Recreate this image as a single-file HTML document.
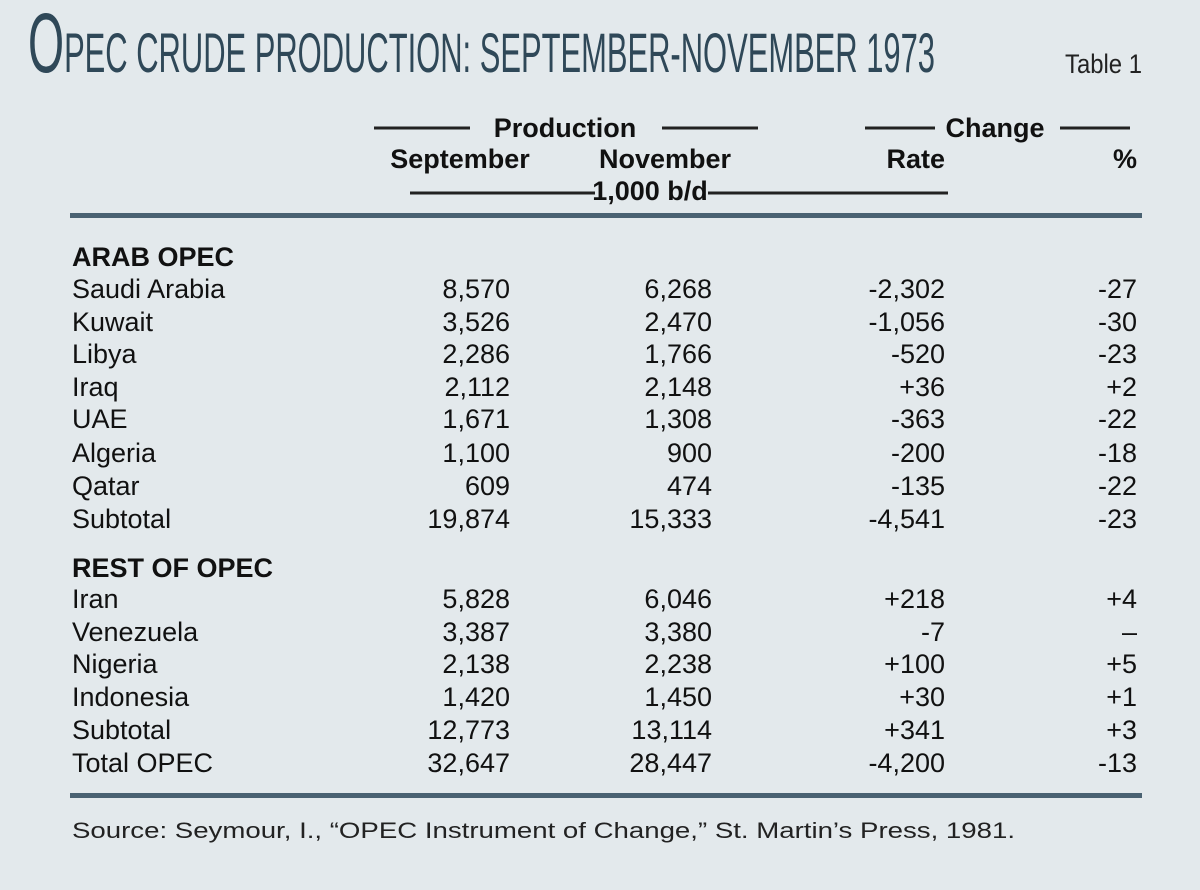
<!DOCTYPE html>
<html><head><meta charset="utf-8"><style>
html,body{margin:0;padding:0;background:#e3e9ec;}
svg{display:block}
</style></head><body>
<svg width="1200" height="890" viewBox="0 0 1200 890" xmlns="http://www.w3.org/2000/svg">
<rect width="1200" height="890" fill="#e3e9ec"/>
<g font-family="Liberation Sans, sans-serif">
<text x="28" y="72" fill="#2f4858" font-size="56" textLength="907" lengthAdjust="spacingAndGlyphs"><tspan font-size="84">O</tspan>PEC CRUDE PRODUCTION: SEPTEMBER-NOVEMBER 1973</text>
<text x="1065" y="73" fill="#222" font-size="27" textLength="77" lengthAdjust="spacingAndGlyphs">Table 1</text>

<g fill="#111" font-size="27" font-weight="bold">
<text x="565" y="137" text-anchor="middle">Production</text>
<text x="995" y="137" text-anchor="middle">Change</text>
<text x="460" y="168" text-anchor="middle">September</text>
<text x="665" y="168" text-anchor="middle">November</text>
<text x="945" y="168" text-anchor="end">Rate</text>
<text x="1137" y="168" text-anchor="end">%</text>
<text x="650" y="200" text-anchor="middle">1,000 b/d</text>
</g>
<g stroke="#222" stroke-width="3">
<line x1="374" y1="128" x2="470" y2="128"/>
<line x1="662" y1="128" x2="758" y2="128"/>
<line x1="865" y1="128" x2="935" y2="128"/>
<line x1="1060" y1="128" x2="1130" y2="128"/>
<line x1="410" y1="193" x2="595" y2="193"/>
<line x1="708" y1="193" x2="948" y2="193"/>
</g>
<rect x="70" y="213" width="1072" height="5" fill="#4a6272"/>
<rect x="70" y="793" width="1072" height="5" fill="#4a6272"/>

<g fill="#111" font-size="27">
<text x="72" y="266" font-weight="bold">ARAB OPEC</text>
<text x="72" y="577" font-weight="bold">REST OF OPEC</text>
</g>
<g fill="#111" font-size="27" id="rows">
<g transform="translate(0,298)"><text x="72">Saudi Arabia</text><text x="510" text-anchor="end">8,570</text><text x="712" text-anchor="end">6,268</text><text x="945" text-anchor="end">-2,302</text><text x="1137" text-anchor="end">-27</text></g>
<g transform="translate(0,331)"><text x="72">Kuwait</text><text x="510" text-anchor="end">3,526</text><text x="712" text-anchor="end">2,470</text><text x="945" text-anchor="end">-1,056</text><text x="1137" text-anchor="end">-30</text></g>
<g transform="translate(0,363)"><text x="72">Libya</text><text x="510" text-anchor="end">2,286</text><text x="712" text-anchor="end">1,766</text><text x="945" text-anchor="end">-520</text><text x="1137" text-anchor="end">-23</text></g>
<g transform="translate(0,396)"><text x="72">Iraq</text><text x="510" text-anchor="end">2,112</text><text x="712" text-anchor="end">2,148</text><text x="945" text-anchor="end">+36</text><text x="1137" text-anchor="end">+2</text></g>
<g transform="translate(0,428)"><text x="72">UAE</text><text x="510" text-anchor="end">1,671</text><text x="712" text-anchor="end">1,308</text><text x="945" text-anchor="end">-363</text><text x="1137" text-anchor="end">-22</text></g>
<g transform="translate(0,462)"><text x="72">Algeria</text><text x="510" text-anchor="end">1,100</text><text x="712" text-anchor="end">900</text><text x="945" text-anchor="end">-200</text><text x="1137" text-anchor="end">-18</text></g>
<g transform="translate(0,495)"><text x="72">Qatar</text><text x="510" text-anchor="end">609</text><text x="712" text-anchor="end">474</text><text x="945" text-anchor="end">-135</text><text x="1137" text-anchor="end">-22</text></g>
<g transform="translate(0,528)"><text x="72">Subtotal</text><text x="510" text-anchor="end">19,874</text><text x="712" text-anchor="end">15,333</text><text x="945" text-anchor="end">-4,541</text><text x="1137" text-anchor="end">-23</text></g>
<g transform="translate(0,608)"><text x="72">Iran</text><text x="510" text-anchor="end">5,828</text><text x="712" text-anchor="end">6,046</text><text x="945" text-anchor="end">+218</text><text x="1137" text-anchor="end">+4</text></g>
<g transform="translate(0,641)"><text x="72">Venezuela</text><text x="510" text-anchor="end">3,387</text><text x="712" text-anchor="end">3,380</text><text x="945" text-anchor="end">-7</text><text x="1137" text-anchor="end">–</text></g>
<g transform="translate(0,673)"><text x="72">Nigeria</text><text x="510" text-anchor="end">2,138</text><text x="712" text-anchor="end">2,238</text><text x="945" text-anchor="end">+100</text><text x="1137" text-anchor="end">+5</text></g>
<g transform="translate(0,706)"><text x="72">Indonesia</text><text x="510" text-anchor="end">1,420</text><text x="712" text-anchor="end">1,450</text><text x="945" text-anchor="end">+30</text><text x="1137" text-anchor="end">+1</text></g>
<g transform="translate(0,739)"><text x="72">Subtotal</text><text x="510" text-anchor="end">12,773</text><text x="712" text-anchor="end">13,114</text><text x="945" text-anchor="end">+341</text><text x="1137" text-anchor="end">+3</text></g>
<g transform="translate(0,772)"><text x="72">Total OPEC</text><text x="510" text-anchor="end">32,647</text><text x="712" text-anchor="end">28,447</text><text x="945" text-anchor="end">-4,200</text><text x="1137" text-anchor="end">-13</text></g>
</g>
<text x="72" y="838" fill="#222" font-size="22" textLength="943" lengthAdjust="spacingAndGlyphs">Source: Seymour, I., “OPEC Instrument of Change,” St. Martin’s Press, 1981.</text>
</g>
</svg>
</body></html>
